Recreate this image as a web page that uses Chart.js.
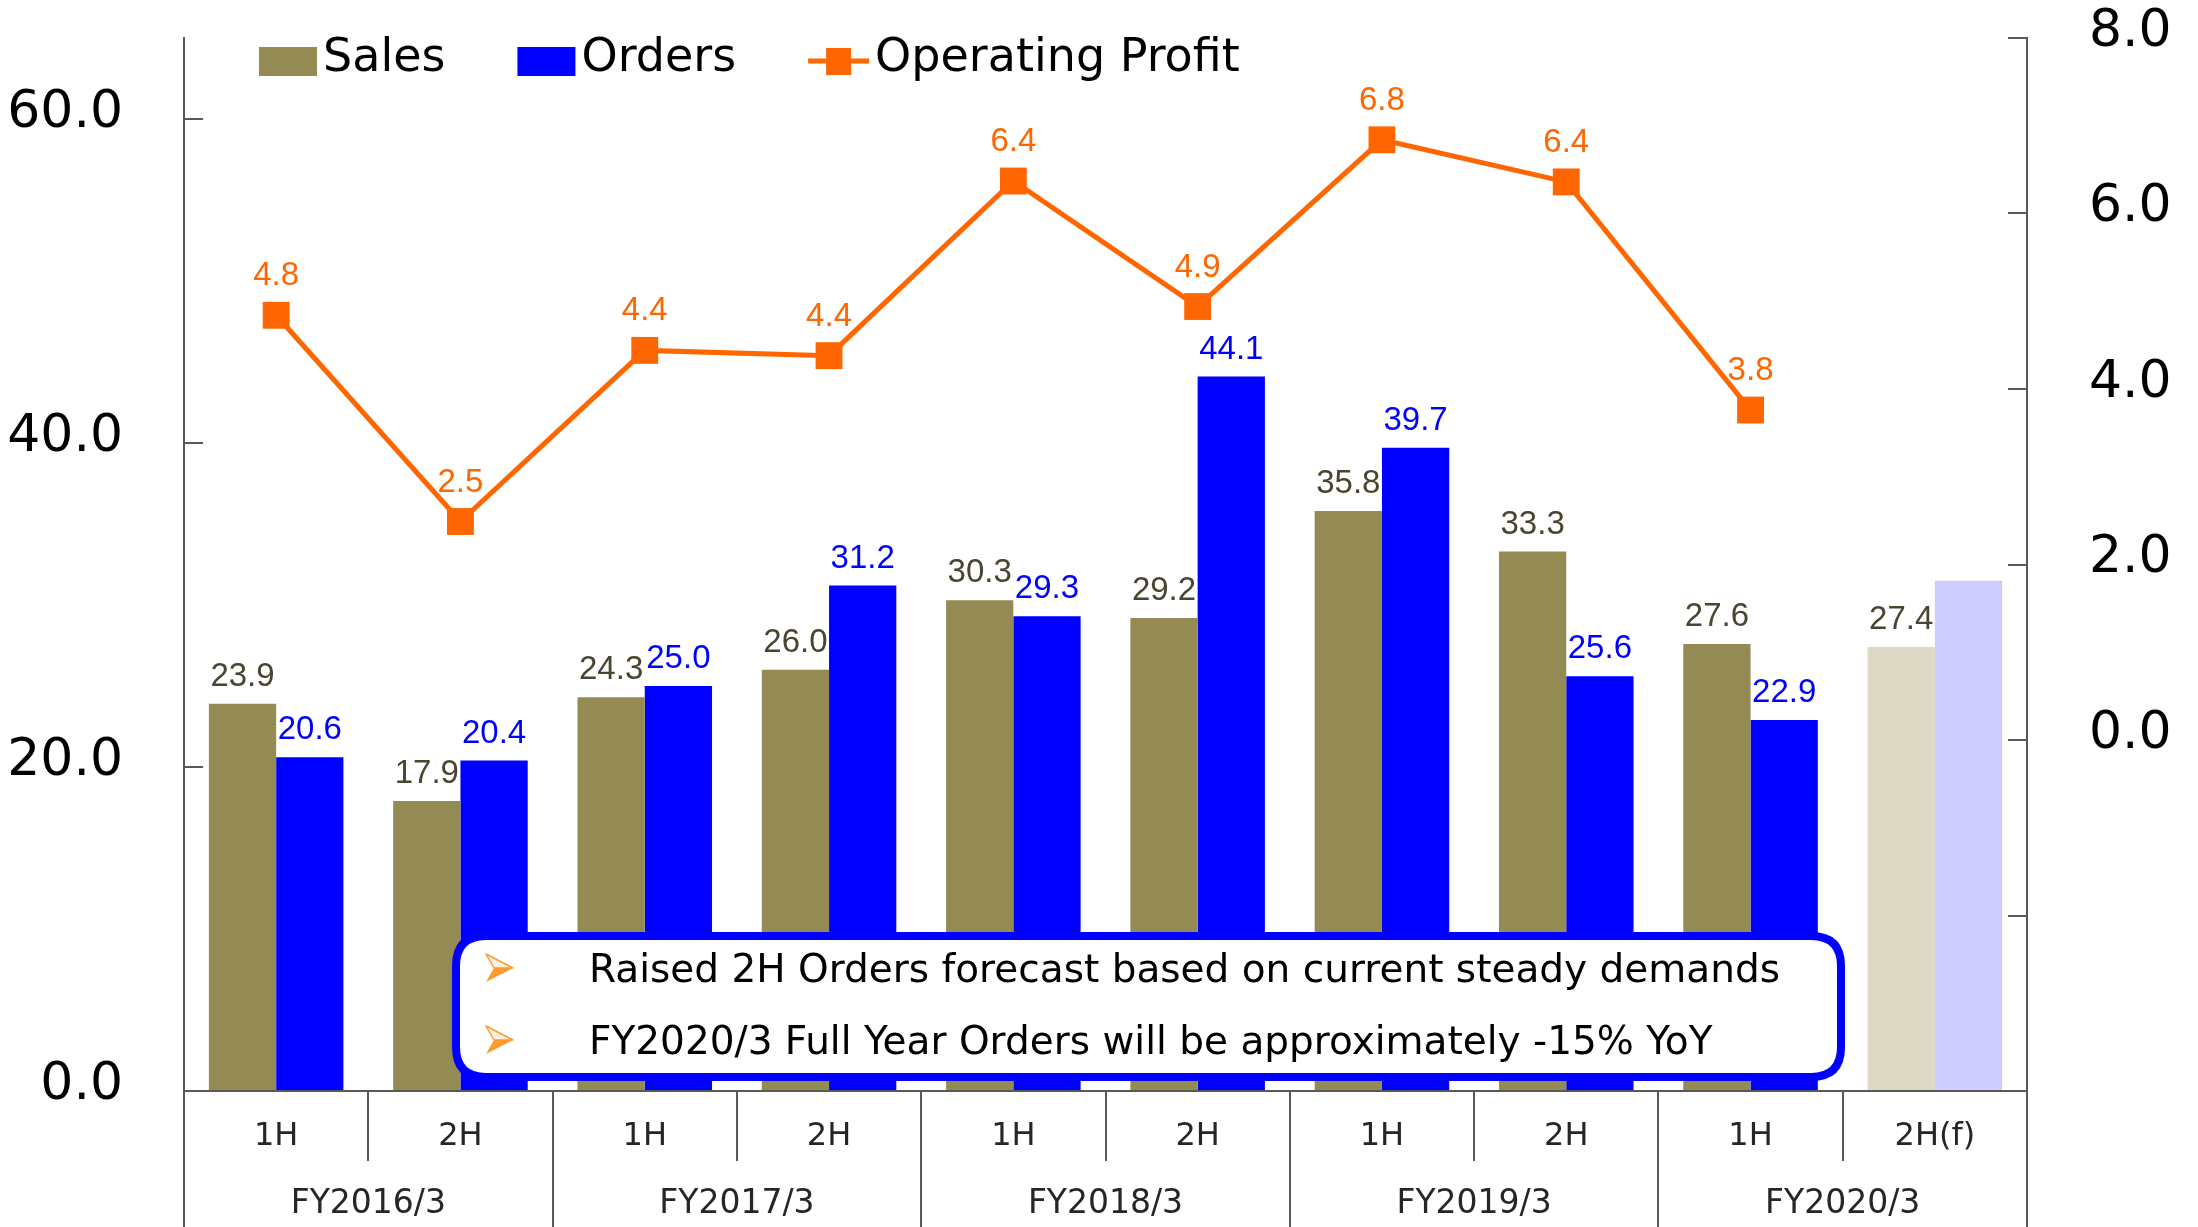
<!DOCTYPE html>
<html>
<head>
<meta charset="utf-8">
<script src="https://cdn.jsdelivr.net/npm/chart.js@4.4.1/dist/chart.umd.min.js"></script>
<style>
html,body{margin:0;padding:0;background:#ffffff;}
#wrap{width:2198px;height:1227px;position:relative;}
</style>
</head>
<body>
<div id="wrap"><canvas id="c" width="2198" height="1227"></canvas></div>
<script>
// ---- data ----
const halfLabels = ['1H','2H','1H','2H','1H','2H','1H','2H','1H','2H(f)'];
const yearLabels = ['FY2016/3','FY2017/3','FY2018/3','FY2019/3','FY2020/3'];
const sales  = [23.9, 17.9, 24.3, 26.0, 30.3, 29.2, 35.8, 33.3, 27.6, 27.4];
const orders = [20.6, 20.4, 25.0, 31.2, 29.3, 44.1, 39.7, 25.6, 22.9, 31.5];
const profit = [4.84, 2.49, 4.44, 4.38, 6.37, 4.94, 6.84, 6.36, 3.76, null];
const leftAxis  = {min: 0, max: 65, step: 20};
const rightAxis = {min: -4, max: 8, step: 2};
const notes = [
  'Raised 2H Orders forecast based on current steady demands',
  'FY2020/3 Full Year Orders will be approximately -15% YoY'
];
const forecastLabel = '2H(f)';
const forecastIndex = halfLabels.indexOf(forecastLabel);

// ---- styles ----
const C = {
  sales: '#948A54', salesF: '#DDD9C4',
  orders: '#0000FF', ordersF: '#CCCCFF',
  profit: '#FF6600',
  salesText: '#4A4530', axis: '#595959'
};
const AXIS_FONT = 'DejaVu Sans';

const valueLabels = {
  id: 'valueLabels',
  afterDatasetsDraw(chart) {
    const ctx = chart.ctx;
    ctx.save();
    ctx.font = '33px "Liberation Sans", Arial, sans-serif';
    ctx.textAlign = 'center';
    ctx.textBaseline = 'alphabetic';
    chart.data.datasets.forEach((ds, i) => {
      const meta = chart.getDatasetMeta(i);
      meta.data.forEach((el, j) => {
        const v = ds.data[j];
        if (v == null) return;
        if (ds.hideLabelAt && ds.hideLabelAt.includes(j)) return;
        ctx.fillStyle = ds.labelColor;
        const off = ds.type === 'line' ? 30 : 18;
        ctx.fillText(v.toFixed(1), el.x, el.y - off);
      });
    });
    ctx.restore();
  }
};

const customLegend = {
  id: 'customLegend',
  afterDraw(chart) {
    const ctx = chart.ctx;
    const a = chart.chartArea;
    ctx.save();
    ctx.font = '46px "DejaVu Sans"';
    ctx.textBaseline = 'alphabetic';
    ctx.textAlign = 'left';
    let x = a.left + 75;
    const base = 71;
    chart.data.datasets.forEach(ds => {
      if (ds.type === 'line') {
        ctx.strokeStyle = ds.borderColor;
        ctx.lineWidth = 5;
        ctx.beginPath(); ctx.moveTo(x, 61); ctx.lineTo(x + 61, 61); ctx.stroke();
        ctx.fillStyle = ds.borderColor;
        ctx.fillRect(x + 18, 48, 25, 27);
        x += 67;
      } else {
        ctx.fillStyle = ds.legendColor;
        ctx.fillRect(x, 47, 58, 29);
        x += 64;
      }
      ctx.fillStyle = '#000';
      ctx.fillText(ds.label, x, base);
      x += ctx.measureText(ds.label).width + 72;
    });
    ctx.restore();
  }
};

function roundRect(ctx, x, y, w, h, r) {
  ctx.beginPath();
  ctx.moveTo(x + r, y);
  ctx.lineTo(x + w - r, y);
  ctx.quadraticCurveTo(x + w, y, x + w, y + r);
  ctx.lineTo(x + w, y + h - r);
  ctx.quadraticCurveTo(x + w, y + h, x + w - r, y + h);
  ctx.lineTo(x + r, y + h);
  ctx.quadraticCurveTo(x, y + h, x, y + h - r);
  ctx.lineTo(x, y + r);
  ctx.quadraticCurveTo(x, y, x + r, y);
  ctx.closePath();
}

function arrowBullet(ctx, x, cy) {
  ctx.save();
  ctx.lineJoin = 'round';
  ctx.beginPath();
  ctx.moveTo(x, cy - 14); ctx.lineTo(x + 27, cy); ctx.lineTo(x + 8, cy); ctx.closePath();
  ctx.fillStyle = '#FFF1E0'; ctx.fill();
  ctx.strokeStyle = '#FF9A2E'; ctx.lineWidth = 1.5; ctx.stroke();
  ctx.beginPath();
  ctx.moveTo(x + 8, cy); ctx.lineTo(x + 27, cy); ctx.lineTo(x, cy + 14); ctx.closePath();
  ctx.fillStyle = '#FF9A2E'; ctx.fill();
  ctx.restore();
}

const noteBox = {
  id: 'noteBox',
  afterDatasetsDraw(chart) {
    const ctx = chart.ctx;
    const a = chart.chartArea;
    const x = a.left + 272, y = a.bottom - 155, w = 1385, h = 141;
    ctx.save();
    roundRect(ctx, x, y, w, h, 30);
    ctx.fillStyle = '#FFFFFF'; ctx.fill();
    ctx.lineWidth = 8; ctx.strokeStyle = '#0000FF'; ctx.stroke();
    ctx.font = '39px "DejaVu Sans"';
    ctx.fillStyle = '#000';
    ctx.textBaseline = 'alphabetic';
    ctx.textAlign = 'left';
    notes.forEach((t, i) => {
      const cy = y + 32 + i * 72;
      arrowBullet(ctx, x + 30, cy);
      ctx.fillText(t, x + 133, cy + 14);
    });
    ctx.restore();
  }
};

const isF = (c) => c.dataIndex === forecastIndex;

new Chart(document.getElementById('c'), {
  data: {
    labels: halfLabels,
    datasets: [
      {
        type: 'bar', label: 'Sales', data: sales, yAxisID: 'y', xAxisID: 'x',
        backgroundColor: (c) => isF(c) ? C.salesF : C.sales,
        legendColor: C.sales, labelColor: C.salesText,
        barPercentage: 1.0, categoryPercentage: 0.73, order: 2
      },
      {
        type: 'bar', label: 'Orders', data: orders, yAxisID: 'y', xAxisID: 'x',
        backgroundColor: (c) => isF(c) ? C.ordersF : C.orders,
        legendColor: C.orders, labelColor: C.orders, hideLabelAt: [forecastIndex],
        barPercentage: 1.0, categoryPercentage: 0.73, order: 2
      },
      {
        type: 'line', label: 'Operating Profit', data: profit, yAxisID: 'y1', xAxisID: 'x',
        borderColor: C.profit, backgroundColor: C.profit, borderWidth: 5,
        pointStyle: 'rect', pointRadius: 19, pointBorderWidth: 0,
        pointBackgroundColor: C.profit, labelColor: C.profit,
        tension: 0, spanGaps: false, order: 0
      }
    ]
  },
  options: {
    responsive: false,
    animation: false,
    devicePixelRatio: 1,
    layout: { padding: { top: 38, right: 0, bottom: 0, left: 0 } },
    plugins: { legend: { display: false }, tooltip: { enabled: false } },
    scales: {
      x: {
        type: 'category', position: 'bottom', offset: true, weight: 0,
        grid: { offset: true, drawOnChartArea: false, drawTicks: true, tickLength: 70, color: C.axis, lineWidth: 2 },
        border: { display: true, color: C.axis, width: 2 },
        ticks: { font: { family: AXIS_FONT, size: 32 }, color: '#262626', padding: -44, maxRotation: 0, autoSkip: false },
        afterFit(s) { s.height = 70; s.paddingLeft = 0; s.paddingRight = 0; }
      },
      x2: {
        type: 'category', labels: yearLabels, position: 'bottom', offset: true, weight: 1,
        grid: { offset: true, drawOnChartArea: false, drawTicks: true, tickLength: 66, color: C.axis, lineWidth: 2 },
        border: { display: false },
        ticks: { font: { family: AXIS_FONT, size: 33 }, color: '#262626', padding: -42, maxRotation: 0, autoSkip: false },
        afterFit(s) { s.height = 66; s.paddingLeft = 0; s.paddingRight = 0; }
      },
      y: {
        position: 'left', min: leftAxis.min, max: leftAxis.max,
        grid: { drawOnChartArea: false, drawTicks: true, tickLength: -19, color: C.axis, lineWidth: 2 },
        border: { display: true, color: C.axis, width: 2 },
        ticks: { stepSize: leftAxis.step, includeBounds: false, font: { family: AXIS_FONT, size: 52 }, color: '#000',
                 padding: 80, labelOffset: -6, callback: (v) => Number(v).toFixed(1) },
        afterFit(s) { s.width = 184; s.paddingTop = 0; s.paddingBottom = 0; }
      },
      y1: {
        position: 'right', min: rightAxis.min, max: rightAxis.max,
        grid: { drawOnChartArea: false, drawTicks: true, tickLength: -19, color: C.axis, lineWidth: 2 },
        border: { display: true, color: C.axis, width: 2 },
        ticks: { stepSize: rightAxis.step, font: { family: AXIS_FONT, size: 52 }, color: '#000',
                 padding: 81, labelOffset: -6, callback: (v) => v < 0 ? '' : Number(v).toFixed(1) },
        afterFit(s) { s.width = 171; s.paddingTop = 0; s.paddingBottom = 0; }
      }
    }
  },
  plugins: [valueLabels, noteBox, customLegend]
});
</script>
</body>
</html>
